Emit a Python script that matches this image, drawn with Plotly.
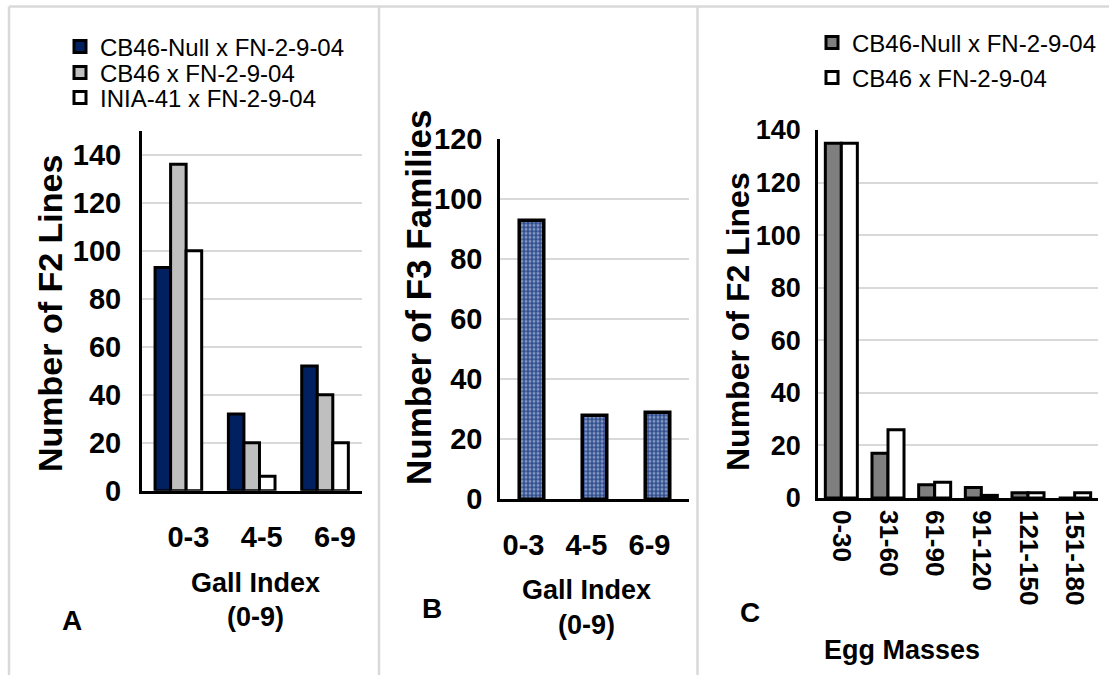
import plotly.graph_objects as go

# ---------------- data ----------------
cats_a = ["0-3", "4-5", "6-9"]
a_null = [93, 32, 52]
a_cb46 = [136, 20, 40]
a_inia = [100, 6, 20]
names_a = ["CB46-Null x FN-2-9-04", "CB46 x FN-2-9-04", "INIA-41 x FN-2-9-04"]

cats_b = ["0-3", "4-5", "6-9"]
b_f3 = [93, 28, 29]

cats_c = ["0-30", "31-60", "61-90", "91-120", "121-150", "151-180"]
c_null = [135, 17, 5, 4, 2, 0]
c_cb46 = [135, 26, 6, 1, 2, 2]
names_c = ["CB46-Null x FN-2-9-04", "CB46 x FN-2-9-04"]

W, H = 1109, 675
FONT = "Arial, 'Liberation Sans', sans-serif"


def px(x):
    return x / W


def py(y):
    return 1 - y / H


fig = go.Figure()

# Panel A (each series gets its own legend box so rows can be spaced freely)
wa = 0.212
legends_a = ["legend", "legend3", "legend4"]
for i, (vals, col, nm, lg) in enumerate(zip([a_null, a_cb46, a_inia],
                                            ["#002060", "#bfbfbf", "#ffffff"], names_a, legends_a)):
    fig.add_trace(go.Bar(x=cats_a, y=vals, name=nm, xaxis="x", yaxis="y",
                         width=wa, offset=-1.5 * wa + i * wa,
                         marker=dict(color=col, line=dict(color="black", width=3)),
                         legend=lg))

# Panel B
wb = 0.39
fig.add_trace(go.Bar(x=cats_b, y=b_f3, xaxis="x2", yaxis="y2", showlegend=False,
                     width=wb, offset=-wb / 2,
                     marker=dict(color="#2E4C8C", line=dict(color="black", width=3.5),
                                 pattern=dict(shape=".", fgcolor="#dbe3f5", size=4, solidity=0.45))))

# Panel C
wc = 0.343
legends_c = ["legend2", "legend5"]
for i, (vals, col, nm, lg) in enumerate(zip([c_null, c_cb46], ["#7f7f7f", "#ffffff"], names_c, legends_c)):
    fig.add_trace(go.Bar(x=cats_c, y=vals, name=nm, xaxis="x3", yaxis="y3",
                         width=wc, offset=-wc + i * wc,
                         marker=dict(color=col, line=dict(color="black", width=3)),
                         legend=lg))


def bfont(size):
    return dict(family=FONT, size=size, color="black", weight="bold")


grid = "#d9d9d9"
xcommon = dict(showline=True, linecolor="black", linewidth=2.5, showgrid=False,
               zeroline=False, ticks="", fixedrange=True, automargin=False)
ycommon = dict(showline=True, linecolor="black", linewidth=2.5, showgrid=True,
               gridcolor=grid, gridwidth=1.5, zeroline=False, ticks="", dtick=20,
               fixedrange=True, automargin=False)


def leg(x, y, size=24):
    return dict(x=px(x), y=py(y), xanchor="left", yanchor="middle",
                font=dict(family=FONT, size=size, color="black"),
                bgcolor="rgba(0,0,0,0)", itemclick=False, itemdoubleclick=False)


fig.update_layout(
    width=W, height=H, margin=dict(l=0, r=0, t=0, b=0, pad=0, autoexpand=False),
    paper_bgcolor="white", plot_bgcolor="white",
    barmode="overlay",
    font=dict(family=FONT, color="black"),
    xaxis=dict(domain=[px(141.7), px(361.7)], anchor="y", tickfont=bfont(29),
               ticklabelstandoff=19, ticklabelshift=10, **xcommon),
    yaxis=dict(domain=[py(490.7), py(130.7)], anchor="x", range=[0, 150],
               tickfont=bfont(29), ticklabelstandoff=12, **ycommon),
    xaxis2=dict(domain=[px(500), px(689)], anchor="y2", tickfont=bfont(29),
                ticklabelstandoff=18, ticklabelshift=-8, **xcommon),
    yaxis2=dict(domain=[py(499.3), py(139.3)], anchor="x2", range=[0, 120],
                tickfont=bfont(29), ticklabelstandoff=9, **ycommon),
    xaxis3=dict(domain=[px(818), px(1098)], anchor="y3", tickangle=90,
                tickfont=bfont(26), ticklabelstandoff=4, **xcommon),
    yaxis3=dict(domain=[py(498), py(130)], anchor="x3", range=[0, 140],
                tickfont=bfont(27), ticklabelstandoff=9, **ycommon),
    legend=leg(60, 47),
    legend3=leg(60, 73),
    legend4=leg(60, 98),
    legend2=leg(812, 43),
    legend5=leg(812, 78),
)

ann = [
    (50, 314, "Number of F2 Lines", 34, -90),
    (418, 298, "Number of F3 Families", 35, -90),
    (738, 322, "Number of F2 Lines", 32, -90),
    (255, 583, "Gall Index", 27, 0),
    (255, 617, "(0-9)", 27, 0),
    (586, 590, "Gall Index", 27, 0),
    (586, 625, "(0-9)", 27, 0),
    (902, 650, "Egg Masses", 27, 0),
    (72, 620, "A", 28, 0),
    (432, 608, "B", 28, 0),
    (750, 612, "C", 28, 0),
]
for x, y, t, s, ang in ann:
    fig.add_annotation(x=px(x), y=py(y), xref="paper", yref="paper", text=t,
                       showarrow=False, textangle=ang, xanchor="center", yanchor="middle",
                       font=bfont(s))

# panel frames
lc = dict(color="#d9d9d9", width=2.5)
fig.add_shape(type="line", xref="paper", yref="paper", x0=px(9), x1=1, y0=py(6.5), y1=py(6.5), line=lc)
for xv in [9, 379, 697.5]:
    fig.add_shape(type="line", xref="paper", yref="paper", x0=px(xv), x1=px(xv),
                  y0=py(6.5), y1=0, line=lc)

fig.write_html("out.html")
